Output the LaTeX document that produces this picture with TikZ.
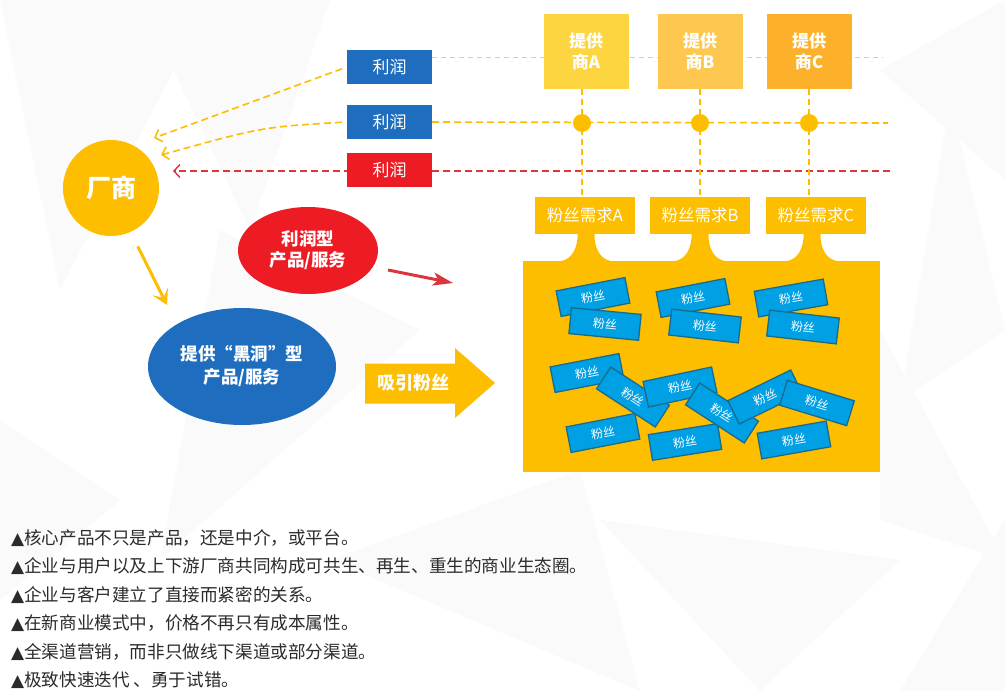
\documentclass[tikz,border=0pt]{standalone}
\usepackage{fontspec}
\setmainfont{Noto Sans CJK SC}
\newfontfamily\dejavu{DejaVu Sans}
\usetikzlibrary{arrows.meta,shapes.geometric,calc}
\definecolor{cyel}{HTML}{FDBE00}
\definecolor{cblue}{HTML}{1F6DBE}
\definecolor{cred}{HTML}{ED1C24}
\definecolor{pA}{HTML}{FCD540}
\definecolor{pB}{HTML}{FEC850}
\definecolor{pC}{HTML}{FDB02A}
\definecolor{fan}{HTML}{00A0E4}
\definecolor{fanb}{HTML}{1B6A8C}
\definecolor{rline}{HTML}{D9363E}
\definecolor{lyel}{HTML}{F7CC6A}
\definecolor{txt}{HTML}{2B2B2B}
\definecolor{bgtri}{HTML}{FAFAFA}
\tikzset{
  fs/.style={font=\fontsize{#1}{20}\selectfont},
  profitbox/.style={minimum width=85pt, minimum height=34pt, inner sep=0pt, text=white, fs=17},
  provbox/.style={minimum width=85pt, minimum height=75pt, inner sep=0pt, text=white, align=center, font=\bfseries\fontsize{17}{21}\selectfont},
  demandbox/.style={fill=cyel, minimum width=100pt, minimum height=37pt, inner sep=0pt, text=white, fs=16.5},
  fancard/.style={draw=fanb, fill=fan, line width=1.3pt, minimum width=70pt, minimum height=26pt, inner sep=0pt, text=white, font=\fontsize{12}{14}\selectfont},
  ydash/.style={draw=cyel, line width=1.6pt, dash pattern=on 7pt off 4pt},
  rdash/.style={draw=rline, line width=1.4pt, dash pattern=on 7pt off 4pt},
  ldash/.style={draw=lyel, line width=1pt, dash pattern=on 5pt off 4pt},
  dotnode/.style={circle, fill=cyel, minimum size=18pt, inner sep=0pt},
  bullet/.style={anchor=west, text=txt, inner sep=0pt, font=\fontsize{17.6}{20}\selectfont},
  barb/.style={-{Straight Barb[length=6pt,width=13pt]}},
}
\newcommand{\tri}{{\dejavu\fontsize{17}{19}\selectfont ▲}}
\begin{document}
\begin{tikzpicture}[x=1pt,y=-1pt]
\fill[white] (0,0) rectangle (1005,691);
\useasboundingbox (0,0) rectangle (1005,691);
% faint background facets
\fill[bgtri] (0,0) -- (210,0) -- (60,290) -- cycle;
\fill[bgtri] (140,0) -- (330,0) -- (250,230) -- cycle;
\fill[bgtri] (220,230) -- (420,330) -- (160,560) -- cycle;
\fill[bgtri] (330,560) -- (580,470) -- (640,691) -- cycle;
\fill[bgtri] (880,70) -- (1005,0) -- (1005,180) -- cycle;
\fill[bgtri] (950,100) -- (1005,330) -- (900,400) -- cycle;
\fill[bgtri] (880,330) -- (1005,560) -- (880,520) -- cycle;
\fill[bgtri] (0,420) -- (120,500) -- (0,600) -- cycle;
\fill[bgtri] (600,520) -- (900,560) -- (760,691) -- cycle;
\fill[bgtri] (1005,520) -- (1005,691) -- (900,691) -- cycle;

% coordinates for free ends
\coordinate (t1) at (154,138);
\coordinate (t2) at (161,155);
\coordinate (t3) at (173,171);
\coordinate (lend) at (883,57);
\coordinate (yend) at (888,123);
\coordinate (rend) at (890,171);
\coordinate (ya2) at (167,305);
\coordinate (ra1) at (388,270);
\coordinate (ra2) at (453,283);

% profit boxes (placed first so lines can refer to them)
\node[profitbox] (p1) at (389.5,67) {};
\node[profitbox] (p2) at (389.5,122) {};
\node[profitbox] (p3) at (389.5,170) {};

% long lines
\draw[ldash] (p1.east |- lend) -- (lend);
\draw[ydash] (p2.east) -- (yend);
\draw[rdash, barb] (rend) -- (t3);
\draw[ydash, barb, shorten <=5pt] (p1.west) -- (t1);
\draw[ydash, barb, shorten <=5pt] (p2.west) .. controls (262,127) .. (t2);

% profit boxes drawn
\node[profitbox, fill=cblue] at (p1) {利润};
\node[profitbox, fill=cblue] at (p2) {利润};
\node[profitbox, fill=cred] at (p3) {利润};

% factory
\node[circle, fill=cyel, minimum size=96pt, inner sep=0pt, text=white, font=\bfseries\fontsize{25}{30}\selectfont] (fac) at (111,188) {厂商};

% providers
\node[provbox, fill=pA] (sA) at (586,51.5) {提供\\商A};
\node[provbox, fill=pB] (sB) at (700,51.5) {提供\\商B};
\node[provbox, fill=pC] (sC) at (809,51.5) {提供\\商C};

% dots
\node[dotnode] (d1) at (582,123) {};
\node[dotnode] (d2) at (700,123) {};
\node[dotnode] (d3) at (809,123) {};

% demand boxes
\node[demandbox] (dA) at (585,215.5) {粉丝需求A};
\node[demandbox] (dB) at (700,215.5) {粉丝需求B};
\node[demandbox] (dC) at (816,215.5) {粉丝需求C};

% vertical dashed lines
\foreach \d/\s/\q in {d1/sA/dA, d2/sB/dB, d3/sC/dC}{
  \draw[ydash, dash pattern=on 6pt off 4pt] (\d |- \s.south) -- (\d |- \q.north);
}

% pool
\node[fill=cyel, minimum width=357pt, minimum height=211pt, inner sep=0pt] (pool) at (701.5,366.5) {};

% necks
\foreach \q/\dx in {dA/1, dB/0, dC/-4}{
  \begin{scope}[shift={($(\q.south)+(\dx,0)$)}]
    \fill[cyel] (-8.5,-1) -- (-8.5,4) .. controls (-10,18) and (-16,27) .. (-30,27.5)
      -- (30,27.5) .. controls (16,27) and (10,18) .. (8.5,4) -- (8.5,-1) -- cycle;
  \end{scope}
}

% fan cards
\node[fancard, rotate=11] (f1) at (593,297) {粉丝};
\node[fancard, rotate=-5.5] (f2) at (605,324) {粉丝};
\node[fancard, rotate=11] (f3) at (693,298) {粉丝};
\node[fancard, rotate=-6.5] (f4) at (705,326) {粉丝};
\node[fancard, rotate=10] (f5) at (791,298) {粉丝};
\node[fancard, rotate=-6.5] (f6) at (803,327) {粉丝};
\node[fancard, rotate=11] (f13) at (603,433) {粉丝};
\node[fancard, rotate=9] (f14) at (685,442) {粉丝};
\node[fancard, rotate=10] (f15) at (794,440) {粉丝};
\node[fancard, rotate=11] (f7) at (587,373) {粉丝};
\node[fancard, rotate=-33] (f8) at (633,397) {粉丝};
\node[fancard, rotate=12] (f9) at (680,387) {粉丝};
\node[fancard, rotate=-33] (f10) at (722,413) {粉丝};
\node[fancard, rotate=26] (f11) at (765,397) {粉丝};
\node[fancard, rotate=-17] (f12) at (817,403) {粉丝};

% ellipses
\node[ellipse, fill=cred, minimum width=140pt, minimum height=87pt, inner sep=0pt, text=white, align=center, font=\bfseries\fontsize{17.5}{21}\selectfont] (ep) at (308,250.5) {利润型\\产品/服务};
\node[ellipse, fill=cblue, minimum width=188pt, minimum height=117pt, inner sep=0pt, text=white, align=center, font=\bfseries\fontsize{17.5}{23}\selectfont] (eb) at (242,366.5) {提供“黑洞”型\\产品/服务};

% arrows
\draw[cyel, line width=3pt, shorten <=16pt, -{Stealth[length=15pt,width=17pt,inset=7pt]}] (fac.-66) -- (ya2);
\draw[rline, line width=3pt, -{Stealth[length=20pt,width=13pt,inset=5pt]}] (ra1) -- (ra2);

% big arrow
\fill[cyel] (365,363.5) -- (455,363.5) -- (455,348) -- (495,383) -- (455,418) -- (455,403.5) -- (365,403.5) -- cycle;
\node[text=white, inner sep=0pt, font=\bfseries\fontsize{18}{21}\selectfont] (att) at (413,383) {吸引粉丝};

% bullet list
\node[bullet] (b1) at (11,538) {\tri 核心产品不只是产品，还是中介，或平台。};
\node[bullet] (b2) at (11,566) {\tri 企业与用户以及上下游厂商共同构成可共生、再生、重生的商业生态圈。};
\node[bullet] (b3) at (11,595) {\tri 企业与客户建立了直接而紧密的关系。};
\node[bullet] (b4) at (11,623) {\tri 在新商业模式中，价格不再只有成本属性。};
\node[bullet] (b5) at (11,652) {\tri 全渠道营销，而非只做线下渠道或部分渠道。};
\node[bullet] (b6) at (11,680) {\tri 极致快速迭代 、勇于试错。};
\end{tikzpicture}
\end{document}
